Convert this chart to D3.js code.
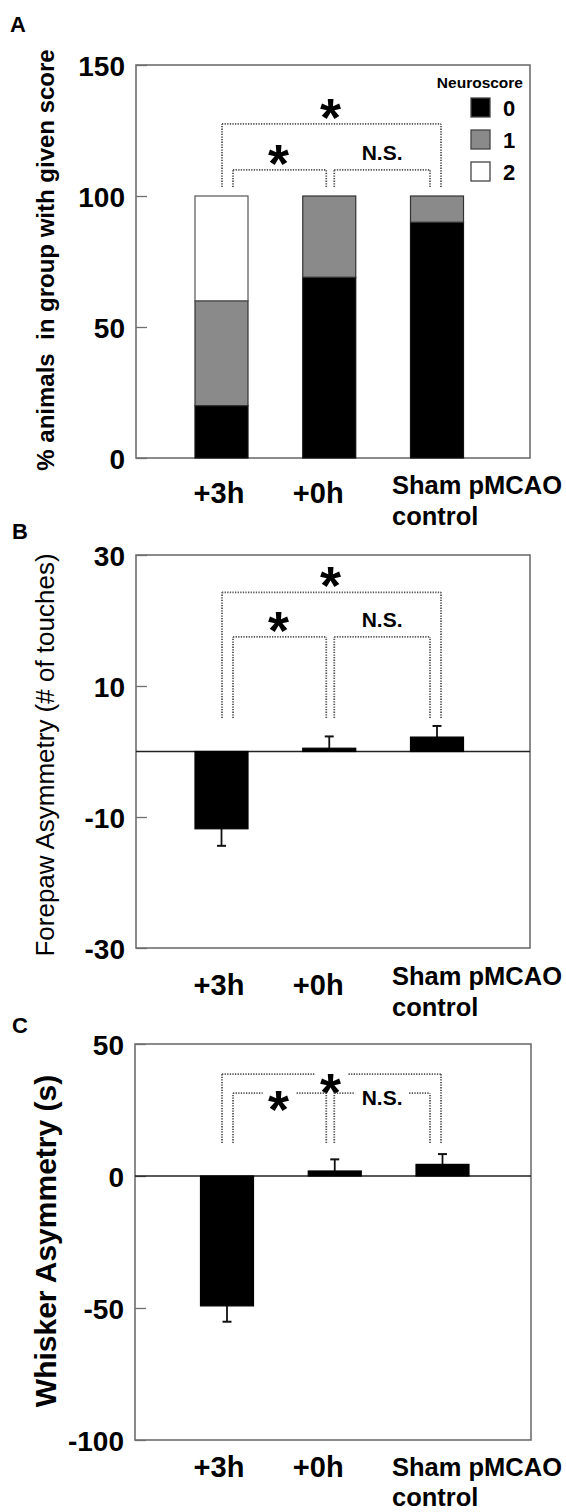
<!DOCTYPE html>
<html>
<head>
<meta charset="utf-8">
<script src="https://cdn.jsdelivr.net/npm/d3@7"></script>
<style>
  html, body { margin: 0; padding: 0; background: #fff; }
  svg { display: block; }
  text { font-family: "Liberation Sans", Arial, Helvetica, sans-serif; }
</style>
</head>
<body>
<div id="chart"></div>
<script>
// ---------------- DATA ----------------
const groups = ["+3h", "+0h", "Sham pMCAO control"];
const groupLabelLines = [["+3h"], ["+0h"], ["Sham pMCAO", "control"]];

// Panel A: % animals with each neuroscore
const neuroscoreLevels = ["0", "1", "2"];
const neuroscore0 = [20, 69, 90];
const neuroscore1 = [40, 31, 10];
const neuroscore2 = [40, 0, 0];
const ticksA = [0, 50, 100, 150];

// Panel B: forepaw asymmetry (# of touches)
const forepawMean = [-11.8, 0.5, 2.2];
const forepawErr = [2.6, 1.8, 1.7];
const ticksB = [-30, -10, 10, 30];

// Panel C: whisker asymmetry (s)
const whiskerMean = [-49.2, 1.9, 4.4];
const whiskerErr = [6.0, 4.4, 3.9];
const ticksC = [-100, -50, 0, 50];

// Significance comparisons [from, to, label]
const comparisons = [
  ["+3h", "Sham pMCAO control", "*"],
  ["+3h", "+0h", "*"],
  ["+0h", "Sham pMCAO control", "N.S."]
];
// bracket heights (data units): [outer level, inner level, leg end]
const bracketLevelsA = [127.5, 110, 103.4];
const bracketLevelsB = [24.3, 17.5, 5.1];
const bracketLevelsC = [38.6, 31.4, 12.5];

// ---------------- LAYOUT ----------------
const W = 566, H = 1512;
const FONT = '"Liberation Sans", Arial, Helvetica, sans-serif';
const svg = d3.select("#chart").append("svg").attr("width", W).attr("height", H);

const barW = 53;
const frameColor = "#6e6e6e";
const dotColor = "#555555";

// x scale for labels/brackets (same for all panels)
const xRef = d3.scalePoint().domain(groups).range([221.5, 437]);

function drawFrame(g, box, y, ticks) {
  const axis = d3.axisLeft(y).tickValues(ticks).tickSize(-11).tickPadding(11).tickFormat(d => String(d));
  const ag = g.append("g").attr("transform", `translate(${box.x0},0)`).call(axis);
  ag.select(".domain").remove();
  ag.selectAll(".tick line").attr("stroke", frameColor).attr("stroke-width", 1.3);
  ag.selectAll(".tick text")
    .attr("font-family", FONT).attr("font-size", 28).attr("font-weight", "bold")
    .attr("fill", "#000").attr("dy", "0.36em");
  g.append("rect")
    .attr("x", box.x0).attr("y", box.y0)
    .attr("width", box.x1 - box.x0).attr("height", box.y1 - box.y0)
    .attr("fill", "none").attr("stroke", frameColor).attr("stroke-width", 1.6);
}

function drawBrackets(g, y, levels, labelMode) {
  const [outer, inner, legEnd] = levels;
  const offsets = [[0.5, 4], [11.5, -3], [5, -7]];
  comparisons.forEach((c, i) => {
    const xa = xRef(c[0]) + offsets[i][0];
    const xb = xRef(c[1]) + offsets[i][1];
    const lvl = i === 0 ? outer : inner;
    const yl = y(lvl), ye = y(legEnd);
    const xm = (xa + xb) / 2;
    const isStar = c[2] === "*";
    const gapHalf = isStar ? 17 : 27;
    const seg = (x1, y1, x2, y2) => g.append("line")
      .attr("x1", x1).attr("y1", y1).attr("x2", x2).attr("y2", y2)
      .attr("stroke", dotColor).attr("stroke-width", 1.8).attr("stroke-dasharray", "1.3,1.3");
    seg(xa, ye, xa, yl);
    seg(xb, ye, xb, yl);
    if (labelMode === "inline") {
      seg(xa, yl, xm - gapHalf, yl);
      seg(xm + gapHalf, yl, xb, yl);
    } else {
      seg(xa, yl, xb, yl);
    }
    let cy;
    if (labelMode === "inline") cy = i === 0 ? yl + 6 : yl + 4;
    else cy = isStar ? yl - 19 : yl - 17;
    if (isStar) {
      g.append("text").attr("x", xm - 1).attr("y", cy + 31)
        .attr("text-anchor", "middle").attr("font-family", FONT)
        .attr("font-weight", "bold").attr("font-size", 54).attr("fill", "#000").text("*");
    } else {
      g.append("text").attr("x", xm).attr("y", cy + 7.5)
        .attr("text-anchor", "middle").attr("font-family", FONT)
        .attr("font-weight", "bold").attr("font-size", 21).attr("fill", "#000").text(c[2]);
    }
  });
}

function drawCategoryLabels(g, box, baseShort, baseSham, baseControl) {
  const dxs = [-2.5, -11];
  groups.forEach((gname, i) => {
    const lines = groupLabelLines[i];
    if (lines.length === 1) {
      g.append("text").attr("x", xRef(gname) + dxs[i]).attr("y", box.y1 + baseShort)
        .attr("text-anchor", "middle").attr("font-family", FONT)
        .attr("font-weight", "bold").attr("font-size", 29).attr("fill", "#000").text(lines[0]);
    } else {
      const x0 = xRef(gname) - 45;
      g.append("text").attr("x", x0).attr("y", box.y1 + baseSham)
        .attr("font-family", FONT).attr("font-weight", "bold").attr("font-size", 25.5)
        .attr("fill", "#000").text(lines[0]);
      g.append("text").attr("x", x0).attr("y", box.y1 + baseControl)
        .attr("font-family", FONT).attr("font-weight", "bold").attr("font-size", 25.5)
        .attr("fill", "#000").text(lines[1]);
    }
  });
}

function panelLetter(txt, x, y) {
  svg.append("text").attr("x", x).attr("y", y).attr("font-family", FONT)
    .attr("font-weight", "bold").attr("font-size", 22).attr("fill", "#000").text(txt);
}

function yTitle(txt, cx, cy, size, weight) {
  svg.append("text")
    .attr("transform", `translate(${cx},${cy}) rotate(-90)`)
    .attr("text-anchor", "middle").attr("dominant-baseline", "central")
    .attr("font-family", FONT).attr("font-size", size).attr("font-weight", weight)
    .attr("fill", "#000").style("white-space", "pre").text(txt);
}

// ---------------- PANEL A ----------------
{
  const box = { x0: 136, x1: 530, y0: 65, y1: 458 };
  const g = svg.append("g");
  const y = d3.scaleLinear().domain([0, 150]).range([box.y1, box.y0]);
  const x = d3.scalePoint().domain(groups).range([221.5, 437]);
  const rows = groups.map((gname, i) => ({ group: gname, "0": neuroscore0[i], "1": neuroscore1[i], "2": neuroscore2[i] }));
  const stack = d3.stack().keys(neuroscoreLevels)(rows);
  const fills = d3.scaleOrdinal().domain(neuroscoreLevels).range(["#000000", "#8a8a8a", "#ffffff"]);
  const strokes = d3.scaleOrdinal().domain(neuroscoreLevels).range(["#111", "#333", "#555"]);

  drawFrame(g, box, y, ticksA);

  stack.forEach(layer => {
    g.selectAll(null).data(layer.filter(d => d[1] - d[0] > 0)).enter().append("rect")
      .attr("x", d => x(d.data.group) - barW / 2)
      .attr("y", d => y(d[1]))
      .attr("width", barW)
      .attr("height", d => y(d[0]) - y(d[1]))
      .attr("fill", fills(layer.key))
      .attr("stroke", strokes(layer.key)).attr("stroke-width", 1.2);
  });

  drawBrackets(g, y, bracketLevelsA, "above");
  drawCategoryLabels(g, box, 45, 36, 67);

  g.append("text").attr("x", 523).attr("y", 88).attr("text-anchor", "end")
    .attr("font-family", FONT).attr("font-weight", "bold").attr("font-size", 15.5)
    .attr("fill", "#000").text("Neuroscore");
  const legY = d3.scalePoint().domain(neuroscoreLevels).range([98, 162]);
  neuroscoreLevels.forEach(k => {
    g.append("rect").attr("x", 471).attr("y", legY(k)).attr("width", 19).attr("height", 19)
      .attr("fill", fills(k)).attr("stroke", "#444").attr("stroke-width", 1.3);
    g.append("text").attr("x", 503).attr("y", legY(k) + 17.5)
      .attr("font-family", FONT).attr("font-weight", "bold").attr("font-size", 22)
      .attr("fill", "#000").text(k);
  });
  panelLetter("A", 10, 32);
  yTitle("% animals  in group with given score", 45, 260, 24, "bold");
}

// ---------------- BAR + ERROR PANELS ----------------
function barPanel(box, domain, ticks, means, errs, xRange, levels, labelMode, labelBases) {
  const g = svg.append("g");
  const y = d3.scaleLinear().domain(domain).range([box.y1, box.y0]);
  const x = d3.scalePoint().domain(groups).range(xRange);
  drawFrame(g, box, y, ticks);
  g.append("line").attr("x1", box.x0).attr("x2", box.x1).attr("y1", y(0)).attr("y2", y(0))
    .attr("stroke", "#222").attr("stroke-width", 1.3);
  const data = groups.map((gname, i) => ({ group: gname, mean: means[i], err: errs[i] }));
  g.selectAll(null).data(data).enter().append("line")
    .attr("x1", d => x(d.group)).attr("x2", d => x(d.group))
    .attr("y1", d => y(d.mean))
    .attr("y2", d => y(d.mean + Math.sign(d.mean) * d.err))
    .attr("stroke", "#111").attr("stroke-width", 1.8);
  g.selectAll(null).data(data).enter().append("line")
    .attr("x1", d => x(d.group) - 4.5).attr("x2", d => x(d.group) + 4.5)
    .attr("y1", d => y(d.mean + Math.sign(d.mean) * d.err))
    .attr("y2", d => y(d.mean + Math.sign(d.mean) * d.err))
    .attr("stroke", "#111").attr("stroke-width", 2);
  g.selectAll(null).data(data).enter().append("rect")
    .attr("x", d => x(d.group) - barW / 2)
    .attr("y", d => y(Math.max(0, d.mean)))
    .attr("width", barW)
    .attr("height", d => Math.abs(y(d.mean) - y(0)))
    .attr("fill", "#000").attr("stroke", "#000").attr("stroke-width", 1.2);
  drawBrackets(g, y, levels, labelMode);
  drawCategoryLabels(g, box, labelBases[0], labelBases[1], labelBases[2]);
  return g;
}

barPanel({ x0: 136, x1: 530, y0: 555, y1: 948 }, [-30, 30], ticksB, forepawMean, forepawErr,
  [221.5, 437], bracketLevelsB, "above", [47, 37, 68]);
panelLetter("B", 12, 539);
yTitle("Forepaw Asymmetry (# of touches)", 45, 755, 26, "normal");

barPanel({ x0: 135, x1: 531, y0: 1044, y1: 1440 }, [-100, 50], ticksC, whiskerMean, whiskerErr,
  [227, 442.5], bracketLevelsC, "inline", [37, 36, 66]);
panelLetter("C", 12, 1033);
yTitle("Whisker Asymmetry (s)", 45, 1241, 30, "bold");
</script>
</body>
</html>
